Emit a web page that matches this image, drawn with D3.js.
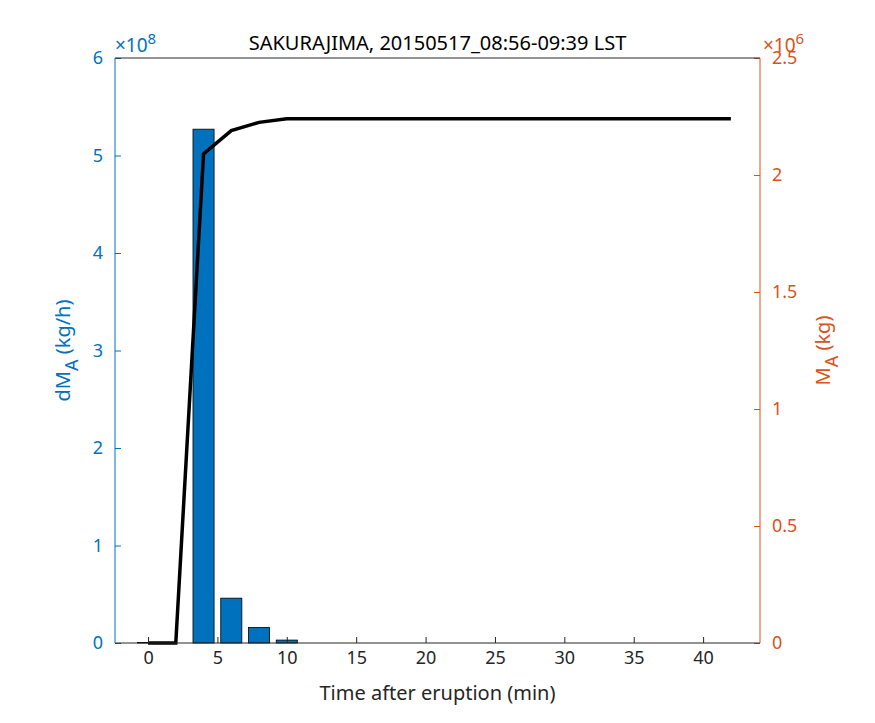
<!DOCTYPE html><html><head><meta charset="utf-8">
<script src="https://cdn.jsdelivr.net/npm/d3@7"></script>
<style>body{margin:0;background:#fff}text{font-family:"Noto Sans","Liberation Sans",sans-serif}</style></head><body>
<script>
const barTimes=[0,4,6,8,10];
const barValues=[0.006e8,5.27e8,0.46e8,0.16e8,0.03e8];
const lineTimes=[0,2,4,6,8,10,12,14,16,18,20,22,24,26,28,30,32,34,36,38,40,42];
const lineValues=[0,0,2.09e6,2.19e6,2.225e6,2.24e6,2.24e6,2.24e6,2.24e6,2.24e6,2.24e6,2.24e6,2.24e6,2.24e6,2.24e6,2.24e6,2.24e6,2.24e6,2.24e6,2.24e6,2.24e6,2.24e6];
const xTicks=[0,5,10,15,20,25,30,35,40];
const yLTicks=[0,1,2,3,4,5,6];
const yRTicks=[0,0.5,1,1.5,2,2.5];
const W=875,H=723,L=115,R=760,T=58,B=643;
const blue="#0072BD",red="#D95319";
const svg=d3.select("body").append("svg").attr("width",W).attr("height",H);
const x=d3.scaleLinear().domain([-2.38,44.1]).range([L,R]);
const yl=d3.scaleLinear().domain([0,6e8]).range([B,T]);
const yr=d3.scaleLinear().domain([0,2.5e6]).range([B,T]);
svg.selectAll("rect.bar").data(barTimes).enter().append("rect")
 .attr("x",d=>x(d-0.76)).attr("width",x(1.52)-x(0))
 .attr("y",(d,i)=>yl(barValues[i])).attr("height",(d,i)=>B-yl(barValues[i]))
 .attr("fill",blue).attr("stroke","#000").attr("stroke-width",0.8);
svg.append("path").datum(lineTimes.map((t,i)=>[t,lineValues[i]]))
 .attr("d",d3.line().x(d=>x(d[0])).y(d=>yr(d[1]))).attr("fill","none").attr("stroke","#000").attr("stroke-width",3.5);
const fs="18px";
const ax=svg.append("g").attr("transform",`translate(0,${B})`).call(d3.axisBottom(x).tickValues(xTicks).tickSize(-6).tickPadding(8));
const al=svg.append("g").attr("transform",`translate(${L},0)`).call(d3.axisLeft(yl).tickValues(yLTicks.map(v=>v*1e8)).tickFormat(d=>d/1e8).tickSize(-6).tickPadding(12));
const ar=svg.append("g").attr("transform",`translate(${R},0)`).call(d3.axisRight(yr).tickValues(yRTicks.map(v=>v*1e6)).tickFormat(d=>d/1e6).tickSize(-6).tickPadding(12));
[ax,al,ar].forEach(g=>{g.attr("font-size",null);g.selectAll("text").style("font-size",fs);g.select(".domain").remove();});
ax.selectAll("text").attr("fill","#262626");
ax.selectAll("line").attr("stroke","#262626");
al.selectAll("line").attr("stroke",blue);al.selectAll("text").attr("fill",blue);
ar.selectAll("line").attr("stroke",red);ar.selectAll("text").attr("fill",red);
svg.append("line").attr("x1",L).attr("x2",R).attr("y1",B).attr("y2",B).attr("stroke","#262626");
svg.append("line").attr("x1",L).attr("x2",R).attr("y1",T).attr("y2",T).attr("stroke","#262626");
svg.append("line").attr("x1",L).attr("x2",L).attr("y1",T).attr("y2",B).attr("stroke",blue);
svg.append("line").attr("x1",R).attr("x2",R).attr("y1",T).attr("y2",B).attr("stroke",red);
svg.append("text").attr("x",L).attr("y",T-6).attr("fill",blue).style("font-size","19px").html('×10<tspan dy="-8" style="font-size:15px">8</tspan>');
svg.append("text").attr("x",R+3).attr("y",T-6).attr("fill",red).style("font-size","19px").html('×10<tspan dy="-8" style="font-size:15px">6</tspan>');
svg.append("text").attr("x",(L+R)/2).attr("y",T-8).attr("text-anchor","middle").attr("fill","#000").style("font-size","20px").text("SAKURAJIMA, 20150517_08:56-09:39 LST");
svg.append("text").attr("x",(L+R)/2).attr("y",700).attr("text-anchor","middle").attr("fill","#262626").style("font-size","20px").text("Time after eruption (min)");
svg.append("text").attr("transform",`translate(70,${(T+B)/2}) rotate(-90)`).attr("text-anchor","middle").attr("fill",blue).style("font-size","20px").html('dM<tspan dy="8" style="font-size:18px">A</tspan><tspan dy="-8"> (kg/h)</tspan>');
svg.append("text").attr("transform",`translate(830,${(T+B)/2}) rotate(-90)`).attr("text-anchor","middle").attr("fill",red).style("font-size","20px").html('M<tspan dy="8" style="font-size:18px">A</tspan><tspan dy="-8"> (kg)</tspan>');
</script></body></html>
